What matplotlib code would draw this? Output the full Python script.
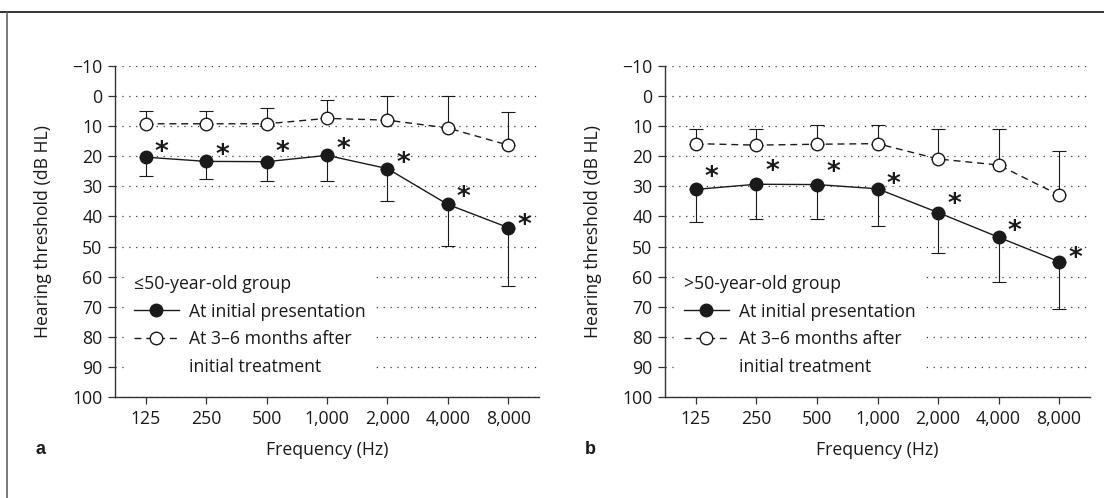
import numpy as np
import matplotlib
matplotlib.use('Agg')
import matplotlib.pyplot as plt
from matplotlib.lines import Line2D

FS = 12.7

plt.rcParams.update({
    'font.family': ['Open Sans', 'DejaVu Sans'],
    'font.size': FS,
    'text.color': '#1a1a1a',
    'axes.labelcolor': '#1a1a1a',
    'xtick.color': '#333333',
    'ytick.color': '#333333',
    'xtick.labelcolor': '#1a1a1a',
    'ytick.labelcolor': '#1a1a1a',
})

# ---- data (dB HL) ----
FREQ_LABELS = ['125', '250', '500', '1,000', '2,000', '4,000', '8,000']
Y_TICKS = list(range(-10, 101, 10))

# a: <=50-year-old group
YOUNG_INITIAL = [20.3, 21.7, 21.8, 19.7, 24.1, 36.0, 43.7]
YOUNG_INITIAL_BAR = [26.7, 27.6, 28.1, 28.1, 35.0, 49.8, 63.1]   # end of SD bar
YOUNG_FOLLOW = [9.2, 9.2, 9.2, 7.4, 8.0, 10.6, 16.3]
YOUNG_FOLLOW_BAR = [4.8, 4.8, 3.9, 1.4, 0.0, 0.0, 5.2]

# b: >50-year-old group
OLD_INITIAL = [31.0, 29.3, 29.4, 30.8, 38.7, 46.9, 55.0]
OLD_INITIAL_BAR = [42.0, 40.8, 40.8, 43.3, 52.2, 61.9, 70.9]
OLD_FOLLOW = [15.8, 16.3, 16.0, 15.8, 20.9, 22.9, 32.9]
OLD_FOLLOW_BAR = [10.8, 10.8, 9.7, 9.5, 10.8, 11.1, 18.2]

LEGEND_LABELS = ['At initial presentation', 'At 3\u20136 months after', 'initial treatment']

# star placement (points, relative to the filled marker) - layout only
STAR_DX = 11.5
STAR_DY_A = [6.5, 7, 10, 7, 7, 8, 4.5]
STAR_DY_B = [12, 12.6, 12, 6.5, 8.8, 7.3, 5]

INK = '#1a1a1a'


def draw_panel(ax, initial, initial_bar, follow, follow_bar, group, star_dy, letter):
    x = np.arange(len(FREQ_LABELS))
    initial = np.array(initial)
    follow = np.array(follow)

    # SD bars: follow-up goes up (towards better hearing), initial goes down
    ax.errorbar(x, follow, yerr=[follow - np.array(follow_bar), np.zeros(len(x))],
                fmt='none', ecolor=INK, elinewidth=0.8, capsize=5, capthick=0.8, zorder=2)
    ax.errorbar(x, initial, yerr=[np.zeros(len(x)), np.array(initial_bar) - initial],
                fmt='none', ecolor=INK, elinewidth=0.8, capsize=5, capthick=0.8, zorder=2)

    ax.plot(x, follow, linestyle=(0, (5, 3.5)), color=INK, lw=1.0, marker='o',
            ms=9, mfc='white', mec=INK, mew=1.0, zorder=3)
    ax.plot(x, initial, '-', color=INK, lw=1.0, marker='o',
            ms=9, mfc=INK, mec=INK, zorder=3)

    for xi, yi, dy in zip(x, initial, star_dy):
        ax.annotate('*', (xi, yi), xytext=(STAR_DX, dy - 8.5), textcoords='offset points',
                    ha='center', va='baseline', fontsize=19, fontweight='bold', color=INK,
                    family='DejaVu Sans', zorder=4)

    ax.set_xlim(-0.51, 6.51)
    ax.set_ylim(100, -10)
    ax.set_yticks(Y_TICKS)
    ax.set_xticks(x)
    ax.set_xticklabels(FREQ_LABELS)
    ax.tick_params(direction='out', length=5, width=0.9, labelsize=FS)
    ax.tick_params(axis='x', pad=4)
    ax.tick_params(axis='y', pad=4)

    for side in ('top', 'right'):
        ax.spines[side].set_visible(False)
    for side in ('left', 'bottom'):
        ax.spines[side].set_color('#333333')
        ax.spines[side].set_linewidth(1.0)

    ax.yaxis.grid(True, linestyle=(0, (1, 4.5)), color='#3a3a3a', lw=0.9)
    ax.set_axisbelow(True)

    ax.set_ylabel('Hearing threshold (dB HL)', va='center')
    ax.yaxis.set_label_coords(-0.17, 0.5)
    ax.set_xlabel('Frequency (Hz)', va='center')
    ax.xaxis.set_label_coords(0.5, -0.16)
    ax.text(-0.175, -0.16, letter, transform=ax.transAxes, ha='center', va='center',
            fontsize=13, fontweight='bold', family='Liberation Sans', color=INK)

    handles = [
        Line2D([], [], color=INK, lw=1.0, marker='o', ms=9, mfc=INK, mec=INK),
        Line2D([], [], color=INK, lw=1.0, linestyle=(0, (5, 3.5)), marker='o', ms=9,
               mfc='white', mec=INK),
        Line2D([], [], color='none'),
    ]
    leg = ax.legend(handles, LEGEND_LABELS, title=group, alignment='left',
                    loc='upper left', bbox_to_anchor=(0.028, 0.39),
                    frameon=True, fancybox=False, facecolor='white', edgecolor='none',
                    framealpha=1, borderpad=0.4, handlelength=2.55, handletextpad=0.57,
                    labelspacing=0.55, borderaxespad=0, fontsize=FS, title_fontsize=FS)
    leg.get_title().set_color(INK)


fig = plt.figure(figsize=(11.04, 4.98), dpi=100)
ax_a = fig.add_axes([115 / 1104, 101 / 498, 424 / 1104, 331 / 498])
ax_b = fig.add_axes([665 / 1104, 101 / 498, 425 / 1104, 331 / 498])

draw_panel(ax_a, YOUNG_INITIAL, YOUNG_INITIAL_BAR, YOUNG_FOLLOW, YOUNG_FOLLOW_BAR,
           '\u226450-year-old group', STAR_DY_A, 'a')
draw_panel(ax_b, OLD_INITIAL, OLD_INITIAL_BAR, OLD_FOLLOW, OLD_FOLLOW_BAR,
           '>50-year-old group', STAR_DY_B, 'b')

# page frame (top rule and left rule of the scanned figure box)
fig.add_artist(Line2D([0, 1], [1 - 12.5 / 498] * 2, transform=fig.transFigure,
                      color='#333333', lw=1.4))
fig.add_artist(Line2D([7 / 1104] * 2, [0, 1 - 12.5 / 498], transform=fig.transFigure,
                      color='#555555', lw=1.1))

fig.savefig('out.png', dpi=100)
